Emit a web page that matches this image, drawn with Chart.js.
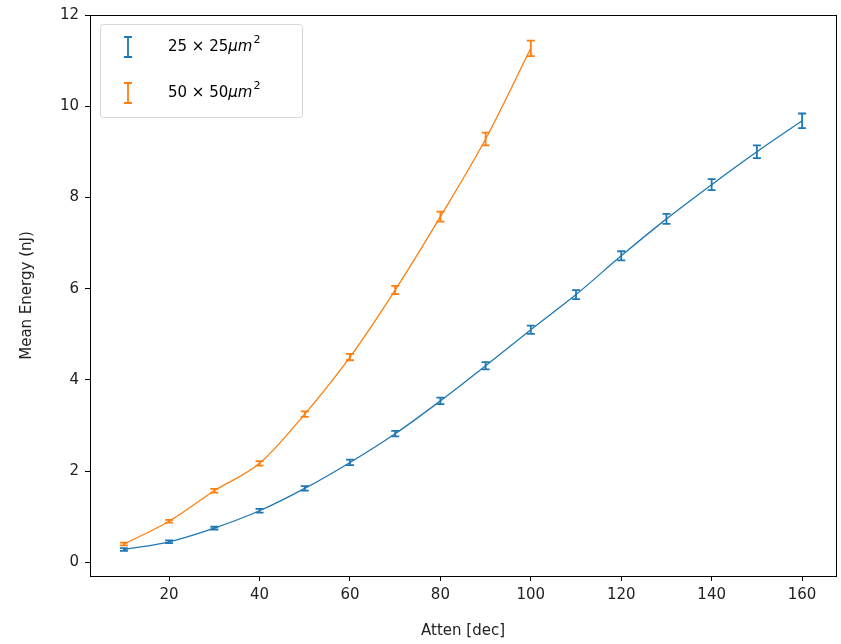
<!DOCTYPE html>
<html>
<head>
<meta charset="utf-8">
<script src="https://cdn.jsdelivr.net/npm/chart.js@4.4.1/dist/chart.umd.min.js"></script>
<style>
  html, body { margin: 0; padding: 0; background: #fff; }
  #wrap { width: 841px; height: 644px; }
</style>
</head>
<body>
<div id="wrap"><canvas id="myChart" width="841" height="644"></canvas></div>
<script>
"use strict";

const atten = [10, 20, 30, 40, 50, 60, 70, 80, 90, 100, 110, 120, 130, 140, 150, 160];
const energy25 = [0.28, 0.45, 0.75, 1.13, 1.62, 2.19, 2.82, 3.54, 4.31, 5.1, 5.87, 6.72, 7.53, 8.28, 9.0, 9.68];
const err25 = [0.03, 0.03, 0.03, 0.04, 0.05, 0.06, 0.06, 0.07, 0.08, 0.09, 0.1, 0.1, 0.11, 0.12, 0.14, 0.16];
const energy50 = [0.4, 0.9, 1.57, 2.17, 3.25, 4.5, 5.97, 7.58, 9.28, 11.27];
const err50 = [0.03, 0.03, 0.04, 0.05, 0.06, 0.07, 0.09, 0.11, 0.14, 0.17];
const xTicks = [20, 40, 60, 80, 100, 120, 140, 160];
const yTicks = [0, 2, 4, 6, 8, 10, 12];

const blue = "#1f77b4";
const orange = "#ff7f0e";
const fontFamily = "'DejaVu Sans', sans-serif";

function points(xs, ys) {
  return ys.map((y, i) => ({ x: xs[i], y: y }));
}

// error bars with caps, drawn through the chart's scales
const errorBars = {
  id: "errorBars",
  afterDatasetsDraw(chart) {
    const ctx = chart.ctx;
    const xs = chart.scales.x;
    const ys = chart.scales.y;
    chart.data.datasets.forEach((ds) => {
      ctx.save();
      ctx.strokeStyle = ds.borderColor;
      ctx.lineWidth = 1.8;
      ds.data.forEach((p, j) => {
        const e = ds.errors[j];
        const px = xs.getPixelForValue(p.x);
        const top = ys.getPixelForValue(p.y + e);
        const bot = ys.getPixelForValue(p.y - e);
        ctx.beginPath();
        ctx.moveTo(px, top);
        ctx.lineTo(px, bot);
        ctx.moveTo(px - 4, top);
        ctx.lineTo(px + 4, top);
        ctx.moveTo(px - 4, bot);
        ctx.lineTo(px + 4, bot);
        ctx.stroke();
      });
      ctx.restore();
    });
  },
};

// full box around plot + legend in the upper left
const frameAndLegend = {
  id: "frameAndLegend",
  afterDraw(chart) {
    const ctx = chart.ctx;
    const a = chart.chartArea;
    ctx.save();
    ctx.strokeStyle = "#000";
    ctx.lineWidth = 1;
    ctx.strokeRect(Math.round(a.left) + 0.5, Math.round(a.top) + 0.5,
      Math.round(a.right - a.left), Math.round(a.bottom - a.top));

    const bx = a.left + 10, by = a.top + 9, bw = 202, bh = 93;
    ctx.fillStyle = "rgba(255,255,255,0.8)";
    ctx.strokeStyle = "#d6d6d6";
    ctx.beginPath();
    ctx.roundRect(bx + 0.5, by + 0.5, bw, bh, 3);
    ctx.fill();
    ctx.stroke();

    chart.data.datasets.forEach((ds, i) => {
      const cy = by + 23 + i * 46;
      const ix = bx + 28;
      ctx.strokeStyle = ds.borderColor;
      ctx.lineWidth = 1.8;
      ctx.beginPath();
      ctx.moveTo(ix, cy - 10);
      ctx.lineTo(ix, cy + 10);
      ctx.moveTo(ix - 4, cy - 10);
      ctx.lineTo(ix + 4, cy - 10);
      ctx.moveTo(ix - 4, cy + 10);
      ctx.lineTo(ix + 4, cy + 10);
      ctx.stroke();

      ctx.fillStyle = "#000";
      ctx.textBaseline = "middle";
      let tx = bx + 68;
      ctx.font = "15px " + fontFamily;
      const size = ds.label;
      const t1 = size + " \u00d7 " + size;
      ctx.fillText(t1, tx, cy);
      tx += ctx.measureText(t1).width;
      ctx.font = "italic 15px " + fontFamily;
      ctx.fillText("\u03bcm", tx, cy);
      tx += ctx.measureText("\u03bcm").width + 1;
      ctx.font = "11px " + fontFamily;
      ctx.fillText("2", tx, cy - 7);
    });
    ctx.restore();
  },
};

const ctx = document.getElementById("myChart").getContext("2d");
const chart = new Chart(ctx, {
  type: "scatter",
  data: {
    datasets: [
      {
        label: "25",
        data: points(atten, energy25),
        errors: err25,
        borderColor: blue,
        backgroundColor: blue,
        showLine: true,
        borderWidth: 1.3,
        pointRadius: 0,
        cubicInterpolationMode: "monotone",
      },
      {
        label: "50",
        data: points(atten, energy50),
        errors: err50,
        borderColor: orange,
        backgroundColor: orange,
        showLine: true,
        borderWidth: 1.3,
        pointRadius: 0,
        cubicInterpolationMode: "monotone",
      },
    ],
  },
  options: {
    responsive: false,
    animation: false,
    layout: { padding: { top: 15, right: 5, left: 14, bottom: 0 } },
    plugins: { legend: { display: false }, tooltip: { enabled: false } },
    scales: {
      x: {
        type: "linear",
        min: 2.5,
        max: 167.5,
        afterBuildTicks: (scale) => { scale.ticks = xTicks.map((v) => ({ value: v })); },
        afterFit: (scale) => { scale.height = 68; },
        grid: { drawOnChartArea: false, drawTicks: true, tickLength: 5, color: "#000" },
        border: { color: "#000" },
        ticks: { color: "#222", font: { family: fontFamily, size: 15 }, padding: 5, maxRotation: 0 },
        title: { display: true, text: "Atten [dec]", color: "#222", font: { family: fontFamily, size: 15 }, padding: { top: 2 } },
      },
      y: {
        type: "linear",
        min: -0.3,
        max: 12,
        afterBuildTicks: (scale) => { scale.ticks = yTicks.map((v) => ({ value: v })); },
        afterFit: (scale) => { scale.width = 76; },
        grid: { drawOnChartArea: false, drawTicks: true, tickLength: 5, color: "#000" },
        border: { color: "#000" },
        ticks: { color: "#222", font: { family: fontFamily, size: 15 }, padding: 6 },
        title: { display: true, text: "Mean Energy (nJ)", color: "#222", font: { family: fontFamily, size: 15 }, padding: { bottom: 6 } },
      },
    },
  },
  plugins: [errorBars, frameAndLegend],
});
</script>
</body>
</html>
